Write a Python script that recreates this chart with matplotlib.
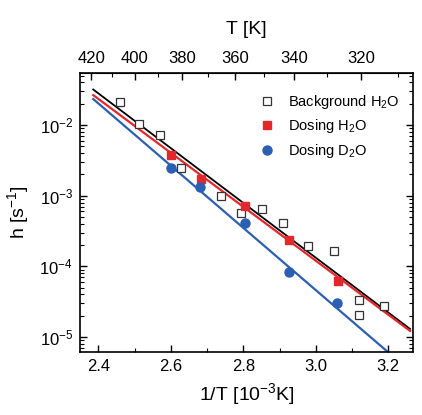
import numpy as np
import matplotlib
matplotlib.use("Agg")
import matplotlib.pyplot as plt
from matplotlib.ticker import MultipleLocator, FixedLocator, LogLocator, NullFormatter

plt.rcParams["font.family"] = ["Liberation Sans", "DejaVu Sans"]
plt.rcParams["mathtext.fontset"] = "custom"
plt.rcParams["mathtext.rm"] = "Liberation Sans"
plt.rcParams["mathtext.it"] = "Liberation Sans"

# background H2O (open squares)
bg_x = [2.460, 2.513, 2.570, 2.627, 2.739, 2.794, 2.852, 2.910, 2.979, 3.050, 3.120, 3.120, 3.188]
bg_h = [2.13e-2, 1.02e-2, 7.2e-3, 2.45e-3, 9.9e-4, 5.75e-4, 6.5e-4, 4.1e-4, 1.96e-4, 1.65e-4,
        3.35e-5, 2.06e-5, 2.75e-5]

# dosing H2O (red squares)
h2o_x = [2.601, 2.683, 2.805, 2.927, 3.061]
h2o_h = [3.77e-3, 1.7e-3, 7.2e-4, 2.36e-4, 6.3e-5]

# dosing D2O (blue circles)
d2o_x = [2.601, 2.681, 2.805, 2.927, 3.059]
d2o_h = [2.5e-3, 1.33e-3, 4.1e-4, 8.4e-5, 3.07e-5]

# fit lines, end points
fit_x = [2.386, 3.260]
fit_bg = [3.18e-2, 1.30e-5]
fit_h2o = [2.65e-2, 1.22e-5]
fit_d2o = [2.33e-2, 3.3e-6]

temp_major = [420, 400, 380, 360, 340, 320]
temp_minor = [410, 390, 370, 350, 330, 310]

red = "#e5262b"
blue = "#2b5fb4"

fig = plt.figure(figsize=(4.22, 4.15), dpi=100)
ax = fig.add_axes([0.1896, 0.1518, 0.789, 0.6723])

ax.plot(fit_x, fit_bg, color="black", lw=1.3, zorder=2)
ax.plot(fit_x, fit_h2o, color=red, lw=1.6, zorder=2)
ax.plot(fit_x, fit_d2o, color=blue, lw=1.6, zorder=2)

ax.plot(bg_x, bg_h, ls="none", marker="s", ms=6, mfc="white", mec="#333333", mew=0.9,
        label="Background H$_2$O", zorder=3)
ax.plot(h2o_x, h2o_h, ls="none", marker="s", ms=6, mfc=red, mec=red,
        label="Dosing H$_2$O", zorder=4)
ax.plot(d2o_x, d2o_h, ls="none", marker="o", ms=6.5, mfc=blue, mec=blue,
        label="Dosing D$_2$O", zorder=4)

ax.set_yscale("log")
ax.set_xlim(2.3495, 3.268)
ax.set_ylim(10 ** -5.212, 10 ** -1.264)

ax.xaxis.set_major_locator(MultipleLocator(0.2))
ax.xaxis.set_minor_locator(MultipleLocator(0.1))
ax.xaxis.set_major_formatter(plt.FormatStrFormatter("%.1f"))
ax.yaxis.set_major_locator(LogLocator(base=10, numticks=10))
ax.yaxis.set_minor_locator(LogLocator(base=10, subs=np.arange(2, 10), numticks=20))
ax.yaxis.set_minor_formatter(NullFormatter())

ax.tick_params(which="both", direction="in", top=False, right=True, labelsize=12)
ax.tick_params(which="major", length=5, width=1, pad=5)
ax.tick_params(which="minor", length=3, width=0.8)
for s in ax.spines.values():
    s.set_linewidth(1.2)

ax.set_xlabel("1/T [10$^{-3}$K]", fontsize=14, labelpad=5)
ax.set_ylabel("h [s$^{-1}$]", fontsize=14, labelpad=6)

top = ax.secondary_xaxis("top", functions=(lambda x: 1000.0 / x, lambda t: 1000.0 / t))
top.xaxis.set_major_locator(FixedLocator(temp_major))
top.xaxis.set_minor_locator(FixedLocator(temp_minor))
top.tick_params(which="both", direction="in", labelsize=12)
top.tick_params(which="major", length=5, width=1, pad=5)
top.tick_params(which="minor", length=3, width=0.8)
top.set_xlabel("T [K]", fontsize=14, labelpad=12)

ax.legend(loc="upper right", frameon=False, fontsize=10.5, handletextpad=0.8,
          labelspacing=0.45, borderaxespad=0.2, handlelength=1.2,
          bbox_to_anchor=(0.985, 0.96))

fig.savefig("out.png", dpi=100)
